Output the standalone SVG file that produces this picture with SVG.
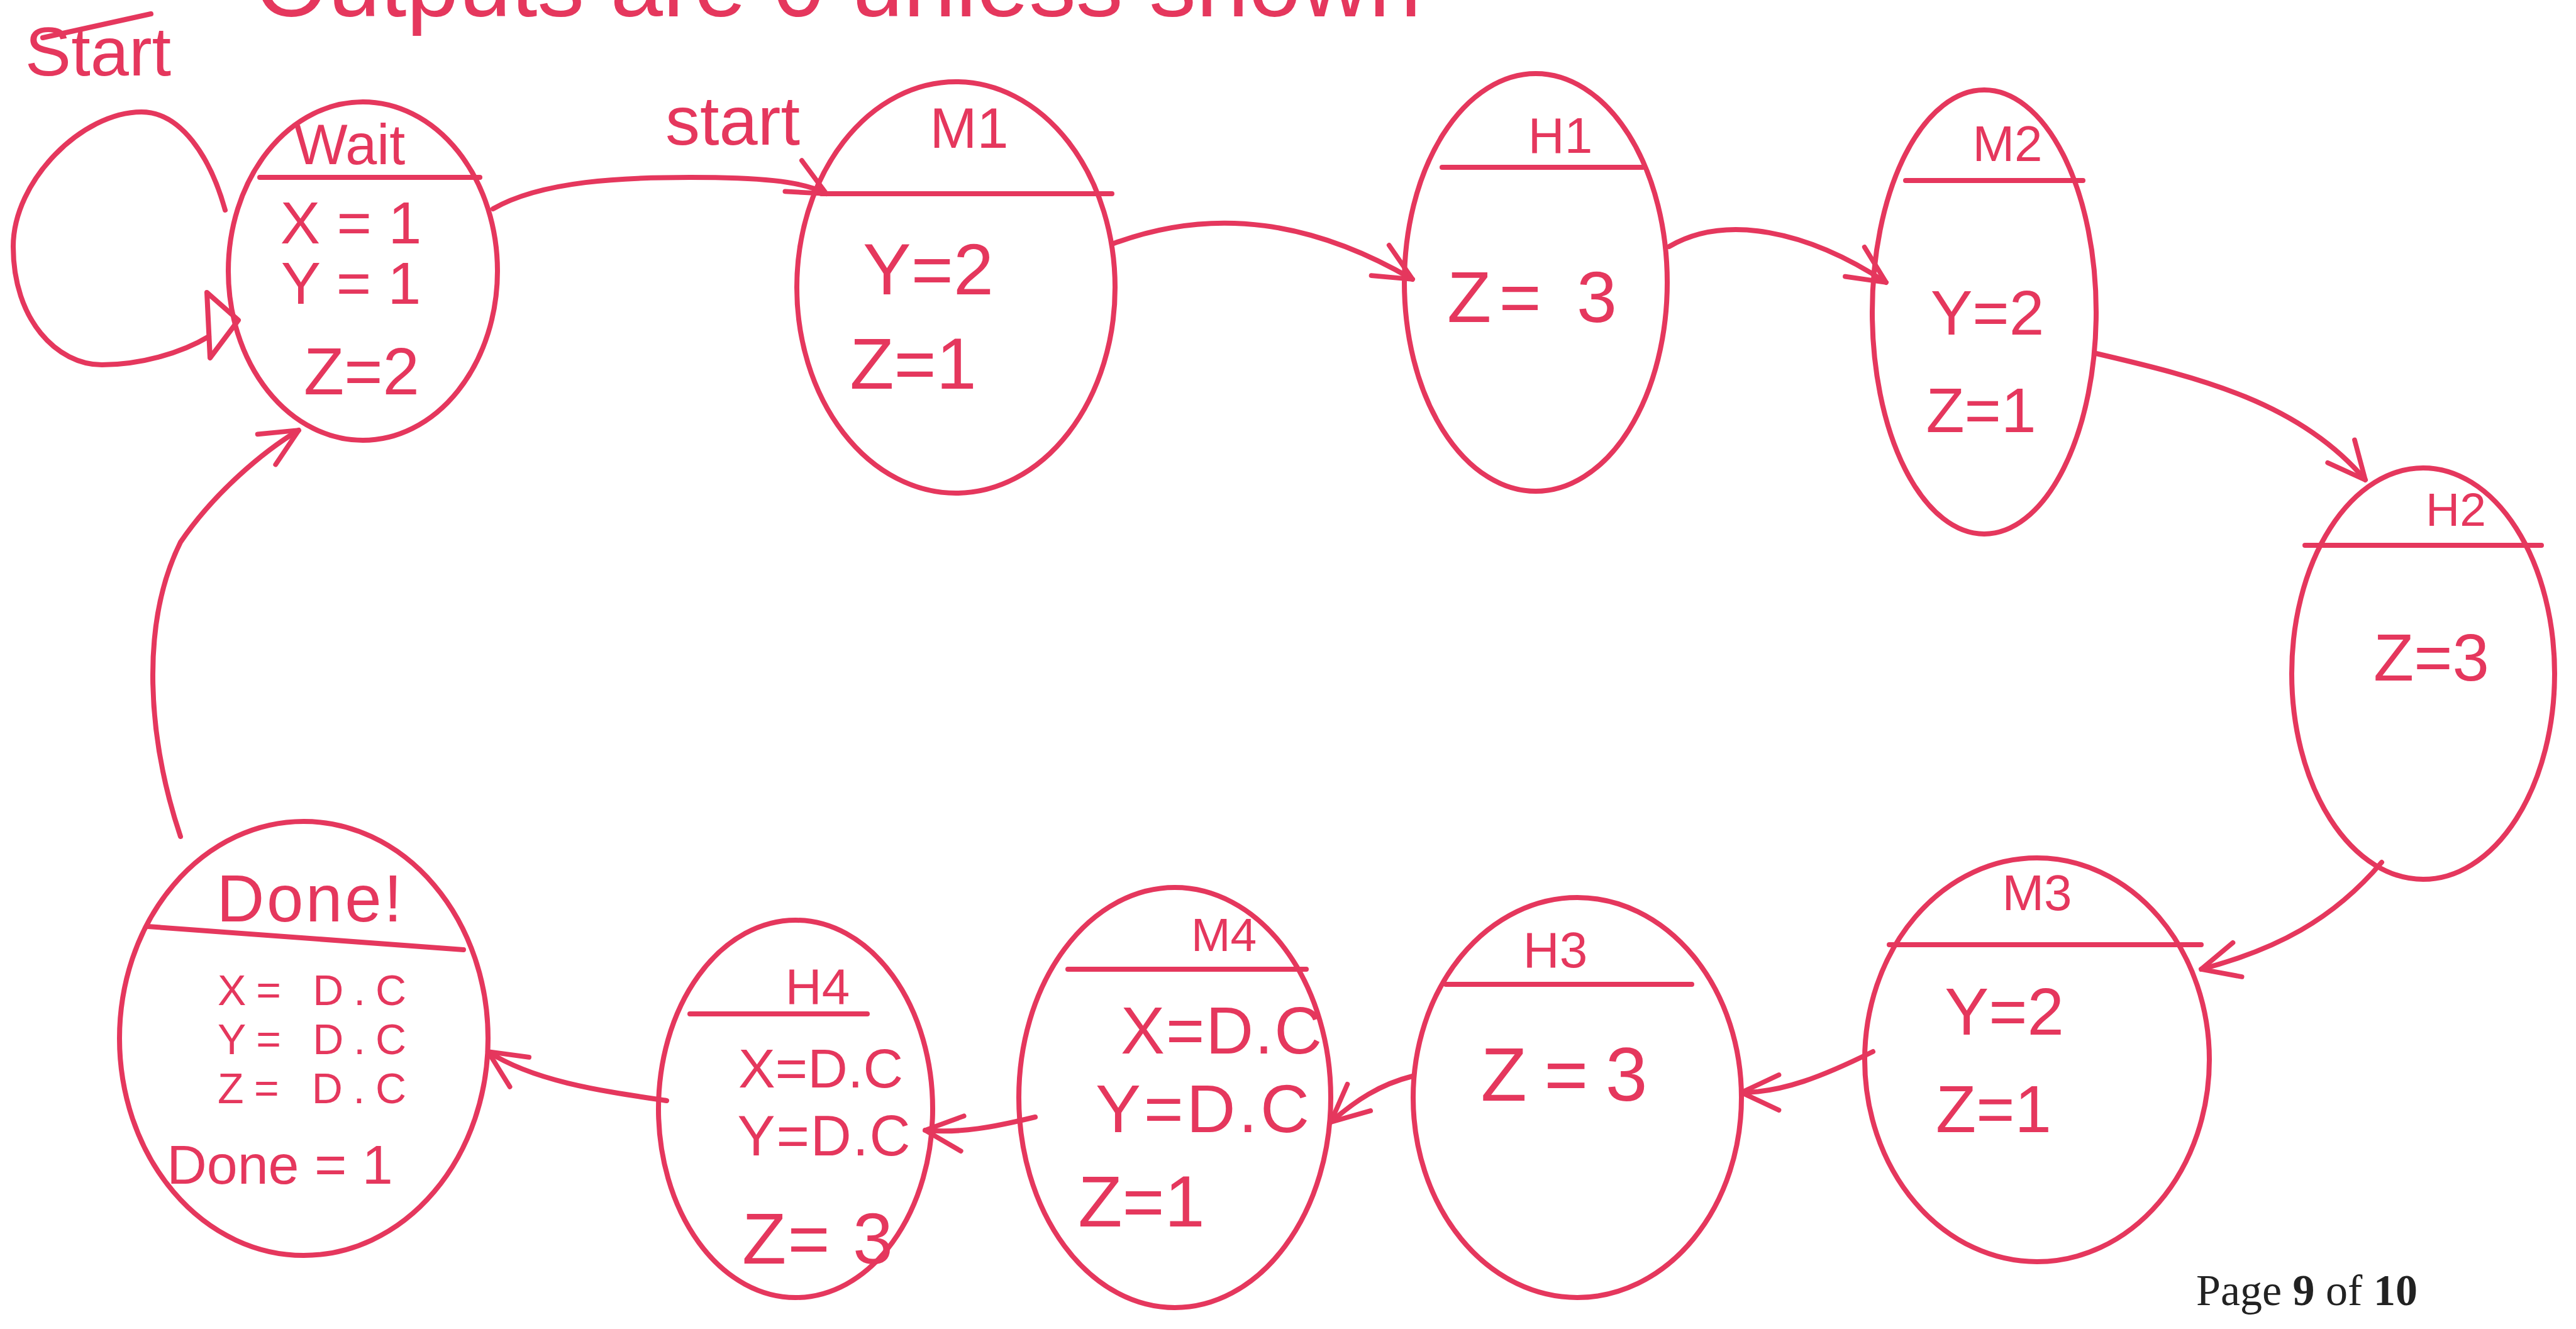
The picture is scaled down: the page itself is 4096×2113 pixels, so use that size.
<svg xmlns="http://www.w3.org/2000/svg" width="4096" height="2113" viewBox="0 0 4096 2113">
<defs>
<style>
.s{fill:none;stroke:#E5375D;stroke-width:8;stroke-linecap:round;stroke-linejoin:round}
.t{fill:#E5375D;font-family:"Liberation Sans",Arial,sans-serif;text-anchor:middle}
.pg{fill:#222;font-family:"Liberation Serif","Times New Roman",serif;font-size:70px}
</style>
<marker id="arr" markerUnits="userSpaceOnUse" markerWidth="70" markerHeight="70" viewBox="0 0 20 20" refX="19" refY="10" orient="auto">
<path d="M2,2 L19,10 L2,18" fill="none" stroke="#E5375D" stroke-width="2.2" stroke-linecap="round" stroke-linejoin="round"/>
</marker>
</defs>
<rect width="4096" height="2113" fill="#fff"/>
<g id="header">
<line class="s" x1="68" y1="60" x2="240" y2="22"/>
<text class="t" x="405" y="26" font-size="150" style="text-anchor:start" textLength="1855">Outputs are 0 unless shown</text>
</g>
<g id="connectors">
<path class="s" d="M358 334 C334 248 287 178 225 178 C131 178 21 287 21 392 C21 509 91 580 162 580 C222 580 287 562 332 535"/>
<polygon class="s" points="329,465 379,509 334,569"/>
<path class="s" marker-end="url(#arr)" d="M784 332 C862 287 993 282 1097 282 C1202 282 1275 287 1314 308"/>
<path class="s" marker-end="url(#arr)" d="M1771 387 C1933 327 2090 353 2246 444"/>
<path class="s" marker-end="url(#arr)" d="M2654 392 C2743 340 2873 366 2999 449"/>
<path class="s" marker-end="url(#arr)" d="M3333 562 C3500 601 3657 640 3761 763"/>
<path class="s" marker-end="url(#arr)" d="M3787 1371 C3709 1463 3618 1510 3500 1541"/>
<path class="s" marker-end="url(#arr)" d="M2978 1672 C2899 1711 2834 1737 2769 1737"/>
<path class="s" marker-end="url(#arr)" d="M2246 1711 C2194 1724 2155 1750 2116 1784"/>
<path class="s" marker-end="url(#arr)" d="M1646 1776 C1580 1792 1528 1802 1471 1797"/>
<path class="s" marker-end="url(#arr)" d="M1060 1750 C960 1735 850 1720 776 1672"/>
<path class="s" marker-end="url(#arr)" d="M287 1330 C235 1175 222 993 287 862 C340 784 418 718 475 684"/>
<text class="t" x="156" y="120" font-size="110">Start</text>
<text class="t" x="1165" y="230" font-size="110">start</text>
</g>
<g id="wait">
<ellipse class="s" cx="577" cy="431" rx="214" ry="269"/>
<line class="s" x1="413" y1="282" x2="763" y2="282"/>
<text class="t" x="556" y="261" font-size="90">Wait</text>
<text class="t" x="558" y="387" font-size="95">X = 1</text>
<text class="t" x="558" y="483" font-size="95">Y = 1</text>
<text class="t" x="575" y="627" font-size="105">Z=2</text>
</g>
<g id="m1">
<ellipse class="s" cx="1520" cy="457" rx="253" ry="327"/>
<line class="s" x1="1306" y1="308" x2="1768" y2="308"/>
<text class="t" x="1541" y="235" font-size="90">M1</text>
<text class="t" x="1476" y="468" font-size="115">Y=2</text>
<text class="t" x="1452" y="618" font-size="115">Z=1</text>
</g>
<g id="h1">
<ellipse class="s" cx="2442" cy="449" rx="209" ry="332"/>
<line class="s" x1="2293" y1="266" x2="2612" y2="266"/>
<text class="t" x="2481" y="243" font-size="80">H1</text>
<text class="t" x="2436" y="512" font-size="115" textLength="270">Z= 3</text>
</g>
<g id="m2">
<ellipse class="s" cx="3155" cy="496" rx="178" ry="353"/>
<line class="s" x1="3030" y1="287" x2="3312" y2="287"/>
<text class="t" x="3192" y="256" font-size="80">M2</text>
<text class="t" x="3160" y="532" font-size="100">Y=2</text>
<text class="t" x="3150" y="687" font-size="100">Z=1</text>
</g>
<g id="h2">
<ellipse class="s" cx="3853" cy="1071" rx="209" ry="327"/>
<line class="s" x1="3665" y1="867" x2="4041" y2="867"/>
<text class="t" x="3905" y="836" font-size="75">H2</text>
<text class="t" x="3866" y="1082" font-size="105">Z=3</text>
</g>
<g id="m3">
<ellipse class="s" cx="3239" cy="1685" rx="274" ry="321"/>
<line class="s" x1="3004" y1="1502" x2="3500" y2="1502"/>
<text class="t" x="3239" y="1447" font-size="80">M3</text>
<text class="t" x="3187" y="1645" font-size="105">Y=2</text>
<text class="t" x="3170" y="1800" font-size="105">Z=1</text>
</g>
<g id="h3">
<ellipse class="s" cx="2508" cy="1745" rx="261" ry="318"/>
<line class="s" x1="2299" y1="1565" x2="2690" y2="1565"/>
<text class="t" x="2473" y="1538" font-size="80">H3</text>
<text class="t" x="2487" y="1750" font-size="120" textLength="265">Z=3</text>
</g>
<g id="m4">
<ellipse class="s" cx="1868" cy="1745" rx="248" ry="334"/>
<line class="s" x1="1698" y1="1541" x2="2077" y2="1541"/>
<text class="t" x="1946" y="1512" font-size="75">M4</text>
<text class="t" x="1942" y="1675" font-size="105" textLength="320">X=D.C</text>
<text class="t" x="1912" y="1800" font-size="108" textLength="340">Y=D.C</text>
<text class="t" x="1815" y="1950" font-size="115">Z=1</text>
</g>
<g id="h4">
<ellipse class="s" cx="1265" cy="1763" rx="218" ry="300"/>
<line class="s" x1="1097" y1="1612" x2="1379" y2="1612"/>
<text class="t" x="1300" y="1596" font-size="80">H4</text>
<text class="t" x="1305" y="1729" font-size="88" textLength="262">X=D.C</text>
<text class="t" x="1310" y="1837" font-size="90" textLength="275">Y=D.C</text>
<text class="t" x="1300" y="2009" font-size="115" textLength="240">Z= 3</text>
</g>
<g id="done">
<ellipse class="s" cx="483" cy="1651" rx="293" ry="345"/>
<line class="s" x1="235" y1="1473" x2="737" y2="1510"/>
<text class="t" x="492" y="1465" font-size="105" textLength="295">Done!</text>
<text class="t" x="496" y="1598" font-size="68" textLength="300">X= D.C</text>
<text class="t" x="496" y="1676" font-size="68" textLength="300">Y= D.C</text>
<text class="t" x="496" y="1754" font-size="68" textLength="300">Z= D.C</text>
<text class="t" x="445" y="1882" font-size="88">Done = 1</text>
</g>
<text class="pg" x="3492" y="2075">Page <tspan font-weight="bold">9</tspan> of <tspan font-weight="bold">10</tspan></text>
</svg>
